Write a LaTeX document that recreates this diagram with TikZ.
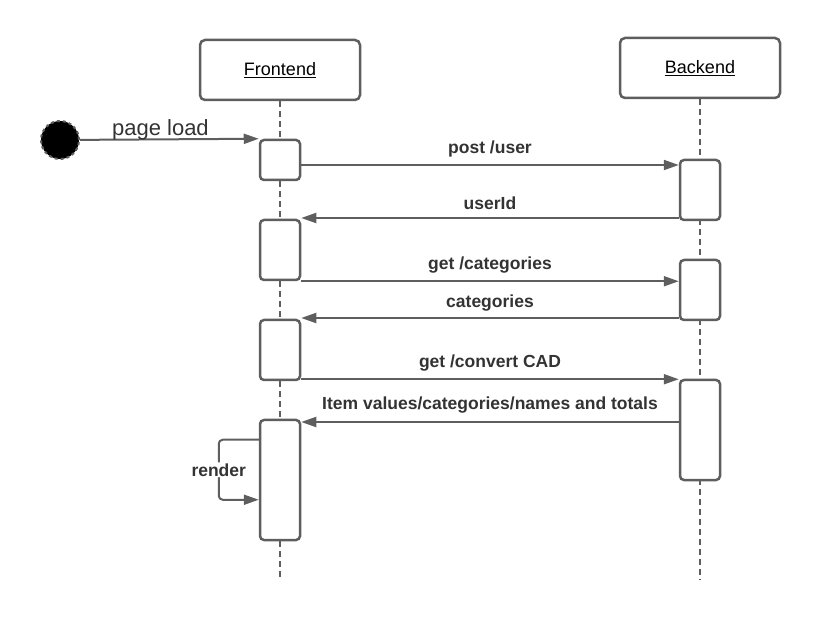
\documentclass[tikz,border=0pt]{standalone}
\usepackage{fontspec}
\setmainfont{Liberation Sans}
\usetikzlibrary{arrows.meta}
\definecolor{linegray}{HTML}{5E5E5E}
\definecolor{textgray}{HTML}{333333}
\begin{document}
\begin{tikzpicture}[x=1pt,y=-1pt]
    \useasboundingbox (0,0) rectangle (820,620);

    \tikzset{actor/.style={draw=linegray,line width=2.5pt,rounded corners=5pt,fill=white,
        minimum width=160pt,minimum height=60pt,text=black,font=\fontsize{18}{20}\selectfont},
        act/.style={draw=linegray,line width=2.5pt,rounded corners=4pt,fill=white,
        minimum width=40pt,inner sep=0pt},
        lifeline/.style={draw=linegray,line width=1.5pt,dash pattern=on 6pt off 4pt},
        msglabel/.style={text=textgray,font=\fontsize{17.5}{20}\selectfont\bfseries}}

    \node[actor] (fe) at (280,70) {\underline{Frontend}};
    \node[actor] (be) at (700,68) {\underline{Backend}};

    \draw[lifeline] (fe) -- (fe |- 0,580);
    \draw[lifeline] (be) -- (be |- 0,580);

    \node[draw=linegray,line width=2pt,dashed,circle,fill=black,minimum size=38pt] (start) at (60,140) {};

    \node[act,minimum height=40pt] (fa1) at (280,160) {};
    \node[act,minimum height=60pt] (fa2) at (280,250) {};
    \node[act,minimum height=60pt] (fa3) at (280,350) {};
    \node[act,minimum height=120pt] (fa4) at (280,480) {};
    \node[act,minimum height=60pt] (ba1) at (700,190) {};
    \node[act,minimum height=60pt] (ba2) at (700,290) {};
    \node[act,minimum height=100pt] (ba3) at (700,430) {};

    \begin{scope}[every path/.style={draw=linegray,line width=2pt,-{Triangle[length=15pt,width=10pt]}}]
        \draw (start) -- (fa1.north west)node[pos=0.45,above=-5pt,text=textgray,font=\fontsize{22}{24}\selectfont]{page load};
        \draw ([yshift=-5pt]fa1.east) -- ([yshift=-5pt]fa1.east -| ba1.west)node[midway,above=4pt,msglabel]{post /user};
        \draw ([yshift=-28pt]ba1.west) -- ([yshift=-28pt]ba1.west -| fa2.east)node[midway,above=4pt,msglabel]{userId};
        \draw (fa2.south east) -- (fa2.south east -| ba2.west)node[midway,above=4pt,msglabel]{get /categories};
        \draw ([yshift=-28pt]ba2.west) -- ([yshift=-28pt]ba2.west -| fa3.east)node[midway,above=2pt,msglabel]{categories};
        \draw ([yshift=2pt]fa3.south east) -- ([yshift=2pt]fa3.south east -| ba3.west)node[midway,above=4pt,msglabel]{get /convert CAD};
        \draw ([yshift=8pt]ba3.west) -- ([yshift=8pt]ba3.west -| fa4.east)node[midway,above=4pt,msglabel]{Item values/categories/names and totals};
        \draw[rounded corners=4pt] ([yshift=-21pt]fa4.north west) -- ++(-40,0) |- ([yshift=-81pt]fa4.north west)
            node[pos=0.25,fill=white,inner sep=1pt,msglabel]{render};
    \end{scope}
\end{tikzpicture}
\end{document}
